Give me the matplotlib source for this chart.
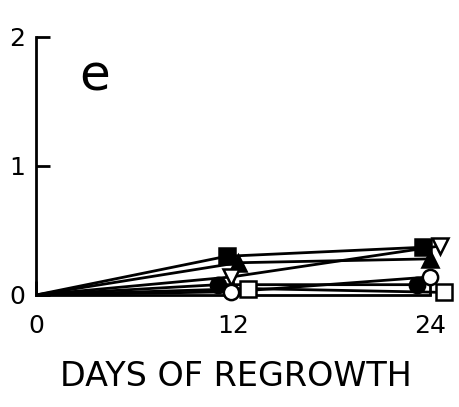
# -*- coding: utf-8 -*-
"""Panel e: regrowth over 24 days, six treatments."""

import matplotlib
matplotlib.use("Agg")
import matplotlib.pyplot as plt

# --- data ---------------------------------------------------------------
days = [0, 12, 24]
series_names = ["filled square", "filled triangle", "open triangle",
                "filled circle", "open circle", "open square"]
filled_square = [0.0, 0.30, 0.37]
filled_triangle = [0.0, 0.25, 0.28]
open_triangle = [0.0, 0.14, 0.38]
filled_circle = [0.0, 0.08, 0.08]
open_circle = [0.0, 0.025, 0.14]
open_square = [0.0, 0.05, 0.02]
x_ticks = [0, 12, 24]
y_ticks = [0, 1, 2]

# --- style --------------------------------------------------------------
# marker, filled, horizontal dodge (days) at day 12 and day 24
STYLES = {
    "filled square": ("s", True, (-0.4, -0.45)),
    "filled triangle": ("^", True, (0.3, 0.0)),
    "open triangle": ("v", False, (-0.1, 0.6)),
    "filled circle": ("o", True, (-0.9, -0.8)),
    "open circle": ("o", False, (-0.1, 0.0)),
    "open square": ("s", False, (0.9, 0.85)),
}
FONT = ["DejaVu Sans"]


def _dodged(xs, dodge):
    return [xs[0], xs[1] + dodge[0], xs[2] + dodge[1]]


def main():
    plt.rcParams["font.family"] = FONT
    fig = plt.figure(figsize=(4.6, 4.07), dpi=100)
    ax = fig.add_axes([0.0783, 0.2752, 0.921, 0.634])

    values = [filled_square, filled_triangle, open_triangle,
              filled_circle, open_circle, open_square]
    for name, ys in zip(series_names, values):
        marker, filled, dodge = STYLES[name]
        xs = _dodged(days, dodge)
        ax.plot(xs, ys, color="black", lw=2, zorder=2)
        ax.plot(xs[1:], ys[1:], ls="none", marker=marker, ms=11,
                mfc="black" if filled else "white", mec="black",
                mew=1.8, zorder=3, clip_on=False)

    ax.set_xlim(0, 25.8)
    ax.set_ylim(0, 2)
    for side in ("top", "right"):
        ax.spines[side].set_visible(False)
    ax.spines["left"].set_bounds(0, 2)
    ax.spines["bottom"].set_bounds(0, 24)
    for side in ("left", "bottom"):
        ax.spines[side].set_linewidth(2)

    ax.set_xticks(x_ticks)
    ax.set_xticklabels([str(t) for t in x_ticks])
    ax.set_yticks(y_ticks)
    ax.set_yticklabels([str(t) for t in y_ticks])
    ax.tick_params(axis="both", direction="in", length=10, width=2,
                   labelsize=18)
    ax.tick_params(axis="x", pad=14)
    ax.tick_params(axis="y", pad=8)

    ax.text(0.139, 0.845, "e", transform=ax.transAxes, fontsize=36,
            ha="center", va="center")
    fig.text(0.512, 0.076, "DAYS OF REGROWTH", fontsize=24,
             ha="center", va="center")

    fig.savefig("out.png", dpi=100)
    plt.close(fig)


if __name__ == "__main__":
    main()
